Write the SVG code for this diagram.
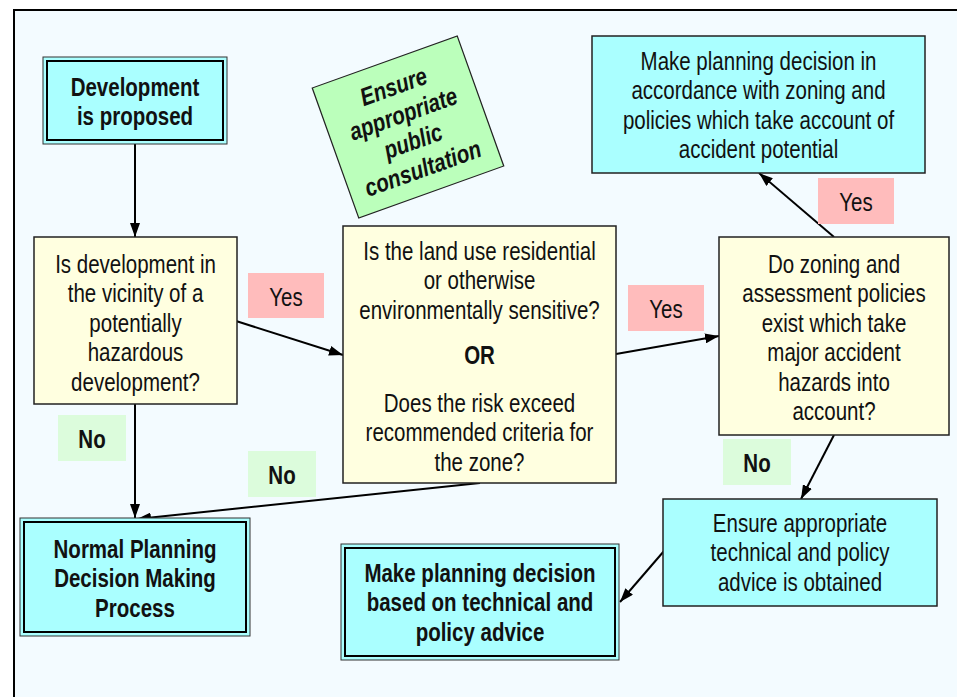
<svg xmlns="http://www.w3.org/2000/svg" width="957" height="697" viewBox="0 0 957 697">
  <defs>
    <marker id="arrow" viewBox="0 0 14 10" refX="14" refY="5" markerWidth="14" markerHeight="10" markerUnits="userSpaceOnUse" orient="auto">
      <path d="M0,0 L14,5 L0,10 Z" fill="#000"/>
    </marker>
    <style>
      text { font-family: "Liberation Sans Narrow", "Liberation Sans", Arial, sans-serif; font-size: 25px; fill: #111; text-anchor: middle; }
      .b { font-weight: bold; }
      .it { font-weight: bold; font-style: italic; }
      .term-outer { fill: #aaffff; stroke: #333; stroke-width: 1; }
      .term-inner { fill: #aaffff; stroke: #000; stroke-width: 2; }
      .action { fill: #aaffff; stroke: #222; stroke-width: 1.5; }
      .decision { fill: #ffffe0; stroke: #222; stroke-width: 1.5; }
      .yes { fill: #ffbcbc; }
      .no { fill: #dcfcdc; }
      .edge { stroke: #000; stroke-width: 2; fill: none; marker-end: url(#arrow); }
    </style>
  </defs>

  <!-- page -->
  <rect x="0" y="0" width="957" height="697" fill="#fff"/>
  <rect x="14" y="10" width="960" height="700" fill="#f3fbff" stroke="#000" stroke-width="2"/>

  <!-- connectors -->
  <g id="connectors">
    <line class="edge" x1="135" y1="144" x2="135" y2="237"/>
    <line class="edge" x1="236" y1="321" x2="343" y2="355"/>
    <line class="edge" x1="616" y1="354" x2="719" y2="336"/>
    <line class="edge" x1="834" y1="237" x2="759" y2="173"/>
    <line class="edge" x1="834" y1="435" x2="801" y2="499"/>
    <line class="edge" x1="664" y1="551" x2="620" y2="602"/>
    <line class="edge" x1="135" y1="404" x2="135" y2="518"/>
    <line class="edge" x1="480" y1="483" x2="137" y2="519"/>
  </g>

  <!-- start; labels are condensed horizontally to a narrow face -->
  <g id="development-proposed">
    <rect class="term-outer" x="43" y="57" width="184" height="87"/>
    <rect class="term-inner" x="47" y="61" width="176" height="79"/>
    <g transform="translate(135 0) scale(0.82 1)">
      <text class="b" x="0" y="96">Development</text>
      <text class="b" x="0" y="125">is proposed</text>
    </g>
  </g>

  <!-- public consultation note -->
  <g id="public-consultation" transform="translate(408,127) rotate(-19.7)">
    <rect x="-77" y="-69" width="154" height="138" fill="#bbffbb" stroke="#222" stroke-width="1.2"/>
    <g transform="scale(0.82 1)">
      <text class="it" x="0" y="-34.5">Ensure</text>
      <text class="it" x="0" y="-5.5">appropriate</text>
      <text class="it" x="0" y="23.5">public</text>
      <text class="it" x="0" y="52.5">consultation</text>
    </g>
  </g>

  <!-- decision: vicinity -->
  <g id="q-vicinity">
    <rect class="decision" x="34" y="237" width="203" height="167"/>
    <g transform="translate(135.5 0) scale(0.82 1)">
      <text x="0" y="273">Is development in</text>
      <text x="0" y="302.5">the vicinity of a</text>
      <text x="0" y="332">potentially</text>
      <text x="0" y="361.5">hazardous</text>
      <text x="0" y="391">development?</text>
    </g>
  </g>

  <!-- decision: land use / risk -->
  <g id="q-landuse">
    <rect class="decision" x="343" y="226" width="273" height="257"/>
    <g transform="translate(479.5 0) scale(0.82 1)">
      <text x="0" y="260">Is the land use residential</text>
      <text x="0" y="289.5">or otherwise</text>
      <text x="0" y="319">environmentally sensitive?</text>
      <text class="b" x="0" y="364">OR</text>
      <text x="0" y="412">Does the risk exceed</text>
      <text x="0" y="441.5">recommended criteria for</text>
      <text x="0" y="471">the zone?</text>
    </g>
  </g>

  <!-- decision: policies -->
  <g id="q-policies">
    <rect class="decision" x="719" y="237" width="230" height="198"/>
    <g transform="translate(834 0) scale(0.82 1)">
      <text x="0" y="273">Do zoning and</text>
      <text x="0" y="302.5">assessment policies</text>
      <text x="0" y="332">exist which take</text>
      <text x="0" y="361.5">major accident</text>
      <text x="0" y="391">hazards into</text>
      <text x="0" y="420">account?</text>
    </g>
  </g>

  <!-- zoning decision -->
  <g id="zoning-decision">
    <rect class="action" x="592" y="36" width="333" height="137"/>
    <g transform="translate(758.5 0) scale(0.82 1)">
      <text x="0" y="70">Make planning decision in</text>
      <text x="0" y="99.5">accordance with zoning and</text>
      <text x="0" y="129">policies which take account of</text>
      <text x="0" y="158.5">accident potential</text>
    </g>
  </g>

  <!-- advice -->
  <g id="obtain-advice">
    <rect class="action" x="663" y="499" width="274" height="107"/>
    <g transform="translate(800 0) scale(0.82 1)">
      <text x="0" y="532">Ensure appropriate</text>
      <text x="0" y="561.5">technical and policy</text>
      <text x="0" y="591">advice is obtained</text>
    </g>
  </g>

  <!-- normal process -->
  <g id="normal-process">
    <rect class="term-outer" x="20" y="518" width="230" height="118"/>
    <rect class="term-inner" x="24" y="522" width="222" height="110"/>
    <g transform="translate(135 0) scale(0.82 1)">
      <text class="b" x="0" y="558">Normal Planning</text>
      <text class="b" x="0" y="587.5">Decision Making</text>
      <text class="b" x="0" y="617">Process</text>
    </g>
  </g>

  <!-- advice-based decision -->
  <g id="advice-decision">
    <rect class="term-outer" x="341" y="544" width="278" height="116"/>
    <rect class="term-inner" x="345" y="548" width="270" height="108"/>
    <g transform="translate(480 0) scale(0.82 1)">
      <text class="b" x="0" y="582">Make planning decision</text>
      <text class="b" x="0" y="611.5">based on technical and</text>
      <text class="b" x="0" y="641">policy advice</text>
    </g>
  </g>

  <!-- branch labels -->
  <g id="label-yes-1"><rect class="yes" x="248" y="273" width="76" height="45"/><text transform="translate(286 306) scale(0.82 1)">Yes</text></g>
  <g id="label-yes-2"><rect class="yes" x="628" y="285" width="76" height="46"/><text transform="translate(666 318) scale(0.82 1)">Yes</text></g>
  <g id="label-yes-3"><rect class="yes" x="818" y="178" width="76" height="46"/><text transform="translate(856 211) scale(0.82 1)">Yes</text></g>
  <g id="label-no-1"><rect class="no" x="58" y="415" width="68" height="46"/><text class="b" transform="translate(92 448) scale(0.82 1)">No</text></g>
  <g id="label-no-2"><rect class="no" x="248" y="451" width="68" height="46"/><text class="b" transform="translate(282 484) scale(0.82 1)">No</text></g>
  <g id="label-no-3"><rect class="no" x="723" y="439" width="68" height="46"/><text class="b" transform="translate(757 472) scale(0.82 1)">No</text></g>
</svg>
